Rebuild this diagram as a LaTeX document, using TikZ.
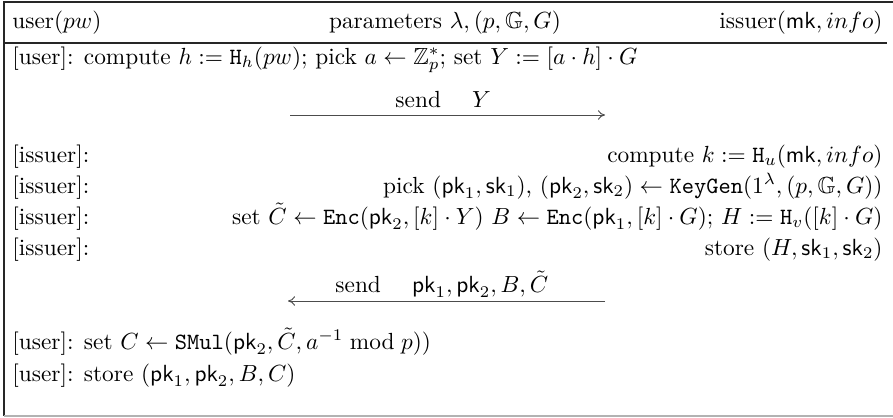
\documentclass[tikz,border=0pt]{standalone}
\usepackage{amsmath,amssymb}
\usetikzlibrary{arrows.meta}
\begin{document}
\begin{tikzpicture}[x=0.4286pt,y=-0.4286pt,
  lt/.style={anchor=base west,inner sep=0pt},
  rt/.style={anchor=base east,inner sep=0pt},
  ct/.style={anchor=base,inner sep=0pt},
  frame/.style={line width=0.5pt,draw=black!85},
  msg/.style={line width=0.4pt,draw=black!70,-{To[length=3pt,width=4pt]}}]
\useasboundingbox (0,0) rectangle (893,417);
% frame
\draw[frame] (893,2) -- (4,2) -- (4,416);
\draw[line width=0.6pt,draw=black!30] (4,416) -- (893,416);
\draw[frame] (4,43) -- (887,43);
% header
\node[lt] (hu) at (12,28) {user($pw$)};
\node[ct] (hp) at (445,28) {parameters $\lambda, (p, \mathbb{G}, G)$};
\node[rt] (hi) at (883,28) {issuer($\mathsf{mk}, info$)};
% user line 1
\node[lt] (u1) at (12,64) {[user]: compute $h := \mathtt{H}_h(pw)$; pick $a \leftarrow \mathbb{Z}_p^*$; set $Y := [a\cdot h]\cdot G$};
% message 1
\coordinate (m1a) at (290,115);
\coordinate (m1b) at (605,115);
\draw[msg] (m1a) -- (m1b);
\node[lt] (s1) at (395,107) {send \quad $Y$};
% issuer lines
\node[lt] (i1l) at (12,162) {[issuer]:};
\node[rt] (i1r) at (883,162) {compute $k := \mathtt{H}_u(\mathsf{mk}, info)$};
\node[lt] (i2l) at (12,193) {[issuer]:};
\node[rt] (i2r) at (883,193) {pick $(\mathsf{pk}_1, \mathsf{sk}_1)$, $(\mathsf{pk}_2, \mathsf{sk}_2) \leftarrow \mathtt{KeyGen}(1^\lambda, (p, \mathbb{G}, G))$};
\node[lt] (i3l) at (12,224) {[issuer]:};
\node[rt] (i3r) at (883,224) {set $\tilde{C} \leftarrow \mathtt{Enc}(\mathsf{pk}_2, [k]\cdot Y)$ $B \leftarrow \mathtt{Enc}(\mathsf{pk}_1, [k]\cdot G)$; $H := \mathtt{H}_v([k]\cdot G)$};
\node[lt] (i4l) at (12,255) {[issuer]:};
\node[rt] (i4r) at (883,255) {store $(H, \mathsf{sk}_1, \mathsf{sk}_2)$};
% message 2
\coordinate (m2a) at (605,301);
\coordinate (m2b) at (288,301);
\draw[msg] (m2a) -- (m2b);
\node[lt] (s2) at (335,292) {send \quad $\mathsf{pk}_1, \mathsf{pk}_2, B, \tilde{C}$};
% user final lines
\node[lt] (u2) at (12,349) {[user]: set $C \leftarrow \mathtt{SMul}(\mathsf{pk}_2, \tilde{C}, a^{-1} \bmod p))$};
\node[lt] (u3) at (12,381) {[user]: store $(\mathsf{pk}_1, \mathsf{pk}_2, B, C)$};
\end{tikzpicture}
\end{document}
